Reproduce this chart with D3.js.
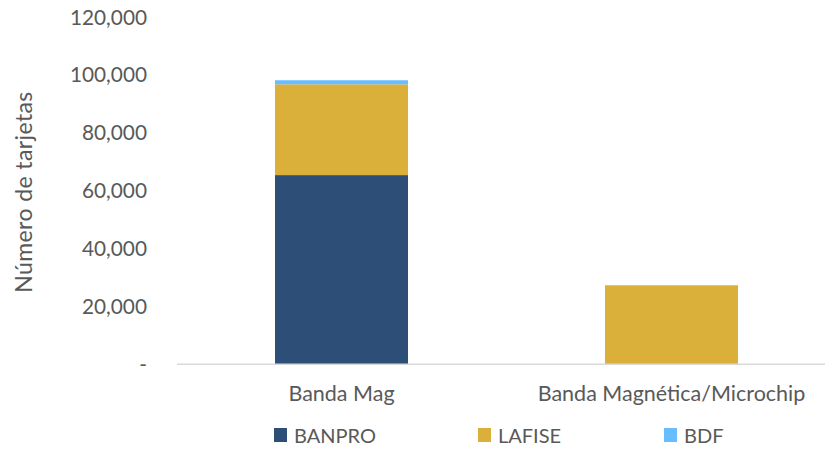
<!DOCTYPE html>
<html>
<head>
<meta charset="utf-8">
<script src="https://cdn.jsdelivr.net/npm/d3@7"></script>
<style>
  html, body { margin: 0; padding: 0; background: #fff; }
  svg { display: block; }
  text { font-family: Lato, "Open Sans", sans-serif; fill: #595959; }
</style>
</head>
<body>
<svg id="chart" width="825" height="450"></svg>
<script>
// Card counts by card type and bank
const categories = ["Banda Mag", "Banda Magnética/Microchip"];
const seriesNames = ["BANPRO", "LAFISE", "BDF"];
const banpro = [65500, 0];
const lafise = [31400, 27400];
const bdf = [1400, 0];
const yTicks = [0, 20000, 40000, 60000, 80000, 100000, 120000];
const colors = ["#2D4E76", "#DBB03A", "#66BDFF"];

const svg = d3.select("#chart");

const rows = categories.map((c, i) => ({
  category: c, BANPRO: banpro[i], LAFISE: lafise[i], BDF: bdf[i]
}));
const stacked = d3.stack().keys(seriesNames)(rows);

const x = d3.scaleBand().domain(categories).range([176.5, 836.5]).padding(0);
const y = d3.scaleLinear().domain([0, 120000]).range([364.5, 17.5]);
const barW = x.bandwidth() * 0.403;

// Y axis labels (no axis line, no ticks)
const fmt = v => v === 0 ? "-" : d3.format(",")(v);
const yAxis = svg.append("g")
  .attr("transform", "translate(147,0)")
  .call(d3.axisLeft(y).tickValues(yTicks).tickFormat(fmt).tickSize(0).tickPadding(0));
yAxis.select(".domain").remove();
yAxis.selectAll("text")
  .style("font-family", "Lato, 'Open Sans', sans-serif")
  .style("font-size", "20.8px")
  .attr("fill", "#595959");

// Stacked bars
svg.append("g").selectAll("g")
  .data(stacked)
  .join("g")
  .attr("fill", (d, i) => colors[i])
  .selectAll("rect")
  .data(d => d.filter(s => s[1] - s[0] > 0))
  .join("rect")
  .attr("x", d => x(d.data.category) + (x.bandwidth() - barW) / 2)
  .attr("width", barW)
  .attr("y", d => y(d[1]))
  .attr("height", d => y(d[0]) - y(d[1]));

// Category axis
const xAxis = svg.append("g")
  .attr("transform", `translate(0,${y(0) - 0.8})`)
  .call(d3.axisBottom(x).tickSize(0).tickPadding(22));
xAxis.select(".domain").attr("stroke", "#D9D9D9").attr("stroke-width", 1.4);
xAxis.selectAll("text")
  .style("font-family", "Lato, 'Open Sans', sans-serif")
  .style("font-size", "21.5px")
  .attr("fill", "#595959");

// Y axis title
svg.append("text")
  .attr("transform", "translate(32,192) rotate(-90)")
  .attr("text-anchor", "middle")
  .style("font-size", "23px")
  .style("letter-spacing", "0.4px")
  .text("Número de tarjetas");

// Legend
const legendX = [274, 478, 664];
const legend = svg.append("g").selectAll("g")
  .data(seriesNames)
  .join("g")
  .attr("transform", (d, i) => `translate(${legendX[i]},428)`);
legend.append("rect")
  .attr("width", 13).attr("height", 14)
  .attr("fill", (d, i) => colors[i]);
legend.append("text")
  .attr("x", 20).attr("y", 14.5)
  .style("font-size", "20px")
  .text(d => d);
</script>
</body>
</html>
